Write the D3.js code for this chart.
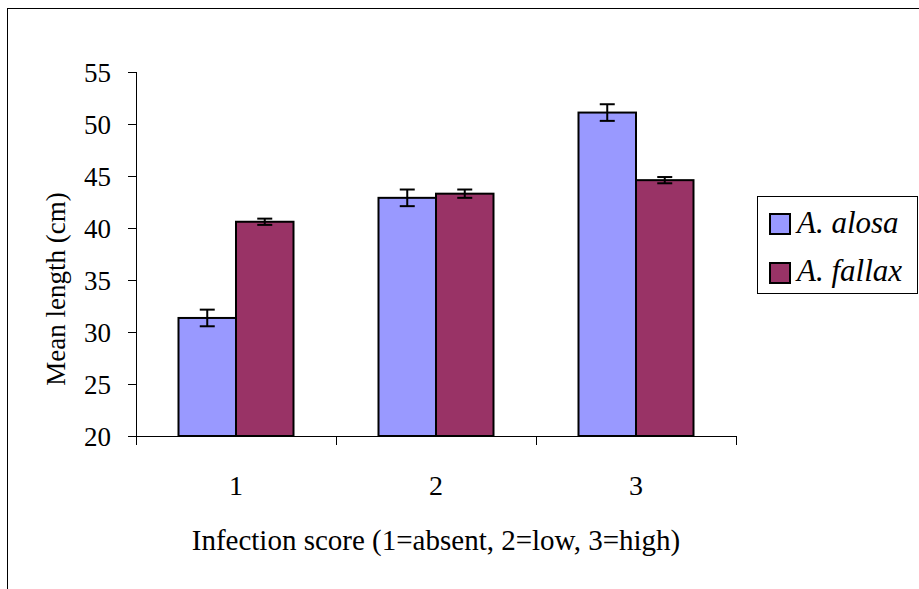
<!DOCTYPE html>
<html><head><meta charset="utf-8">
<script src="https://cdn.jsdelivr.net/npm/d3@7"></script>
<style>body{margin:0;background:#fff;}svg text{font-family:"Times New Roman","Liberation Serif","DejaVu Serif",serif !important;}</style>
</head><body>
<script>
const categories = ["1", "2", "3"];
const seriesNames = ["A. alosa", "A. fallax"];
const alosaMeans = [31.35, 42.9, 51.1];
const alosaErrors = [0.8, 0.8, 0.8];
const fallaxMeans = [40.6, 43.3, 44.6];
const fallaxErrors = [0.3, 0.4, 0.3];
const yTicks = [20, 25, 30, 35, 40, 45, 50, 55];
const colors = ["#9999FF", "#993366"];
const xTitle = "Infection score (1=absent, 2=low, 3=high)";
const yTitle = "Mean length (cm)";

const W = 919, H = 589;
const FONT = "'Times New Roman','Liberation Serif','DejaVu Serif',serif";
const svg = d3.select("body").append("svg").attr("width", W).attr("height", H)
  .attr("font-family", FONT);

// outer frame (cropped at right/bottom)
svg.append("rect").attr("x", 7.5).attr("y", 8.5).attr("width", 2000).attr("height", 2000)
  .attr("fill", "none").attr("stroke", "#000").attr("stroke-width", 1);

const x0 = d3.scaleBand().domain(categories).range([136, 736]).paddingInner(0.425).paddingOuter(0.2125);
const x1 = d3.scaleBand().domain(seriesNames).range([0, x0.bandwidth()]);
const y = d3.scaleLinear().domain([20, 55]).range([436, 72]);

const rows = categories.map((c, i) => ({
  cat: c,
  vals: [
    {s: seriesNames[0], v: alosaMeans[i], e: alosaErrors[i], col: colors[0]},
    {s: seriesNames[1], v: fallaxMeans[i], e: fallaxErrors[i], col: colors[1]}
  ]
}));

// Bars
const g = svg.append("g");
rows.forEach(r => {
  r.vals.forEach(d => {
    g.append("rect")
      .attr("x", x0(r.cat) + x1(d.s))
      .attr("y", y(d.v))
      .attr("width", x1.bandwidth())
      .attr("height", y(20) - y(d.v))
      .attr("fill", d.col).attr("stroke", "#000").attr("stroke-width", 2);
  });
});
// Error bars
rows.forEach(r => {
  r.vals.forEach(d => {
    const cx = x0(r.cat) + x1(d.s) + x1.bandwidth() / 2;
    const eg = g.append("g").attr("stroke", "#000").attr("stroke-width", 2);
    eg.append("line").attr("x1", cx).attr("x2", cx).attr("y1", y(d.v + d.e)).attr("y2", y(d.v - d.e));
    eg.append("line").attr("x1", cx - 7.5).attr("x2", cx + 7.5).attr("y1", y(d.v + d.e)).attr("y2", y(d.v + d.e));
    eg.append("line").attr("x1", cx - 7.5).attr("x2", cx + 7.5).attr("y1", y(d.v - d.e)).attr("y2", y(d.v - d.e));
  });
});

// Y axis
const yAxis = svg.append("g").attr("transform", "translate(136,0)")
  .call(d3.axisLeft(y).tickValues(yTicks).tickSize(8).tickPadding(17).tickFormat(d3.format("d")));
yAxis.attr("font-family", FONT);
yAxis.select(".domain").attr("stroke", "#000").attr("d", "M0.5,72V436");
yAxis.selectAll(".tick line").attr("stroke", "#000");
yAxis.selectAll("text").attr("font-size", 27).attr("fill", "#000").attr("dy", "0.36em");

// X axis
const xAxisG = svg.append("g").attr("transform", "translate(0,436)");
xAxisG.append("line").attr("x1", 136).attr("x2", 736).attr("y1", 0.5).attr("y2", 0.5).attr("stroke", "#000");
const xBounds = [136, 336, 536, 736];
xAxisG.selectAll("line.tk").data(xBounds).enter().append("line").attr("class", "tk")
  .attr("x1", d => d + 0.5).attr("x2", d => d + 0.5).attr("y1", 0).attr("y2", 9).attr("stroke", "#000");
xAxisG.selectAll("text").data(categories).enter().append("text")
  .attr("x", d => x0(d) + x0.bandwidth() / 2).attr("y", 59)
  .attr("text-anchor", "middle").attr("font-size", 28).text(d => d);

// Axis titles
svg.append("text").attr("x", 436).attr("y", 550).attr("text-anchor", "middle")
  .attr("font-size", 29).text(xTitle);
svg.append("text").attr("transform", "translate(65,289) rotate(-90)").attr("text-anchor", "middle")
  .attr("font-size", 27).text(yTitle);

// Legend
const lg = svg.append("g");
lg.append("rect").attr("x", 757.5).attr("y", 196.5).attr("width", 160).attr("height", 97)
  .attr("fill", "#fff").attr("stroke", "#000").attr("stroke-width", 1);
seriesNames.forEach((s, i) => {
  lg.append("rect").attr("x", 770).attr("y", 214 + i * 49).attr("width", 20).attr("height", 20)
    .attr("fill", colors[i]).attr("stroke", "#000").attr("stroke-width", 2);
  lg.append("text").attr("x", 797).attr("y", 233 + i * 48).attr("font-size", 31)
    .attr("font-style", "italic").text(s);
});
</script>
</body></html>
